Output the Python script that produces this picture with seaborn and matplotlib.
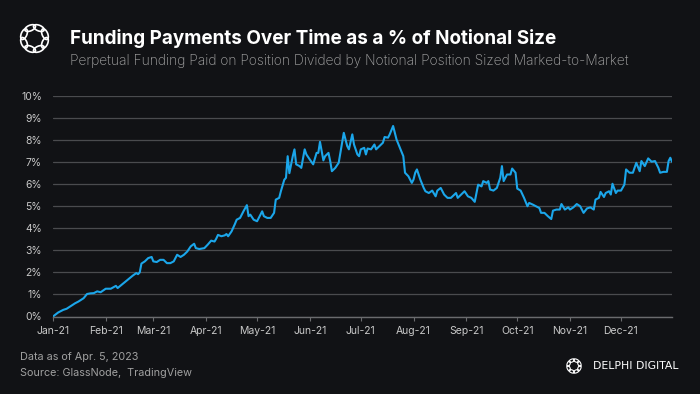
import numpy as np
import pandas as pd
import seaborn as sns
import matplotlib.pyplot as plt
import matplotlib.dates as mdates
from matplotlib.patches import Ellipse
from matplotlib.ticker import FuncFormatter

# -----------------------------
# data: day offset from 2021-01-01, funding %
# -----------------------------
days = [0, 3, 6, 8, 11, 13, 15, 18, 20, 22, 24, 26, 28, 31, 34, 37, 38, 41, 44, 47,
        49, 50, 51, 52, 54, 56, 58, 59, 61, 63, 65, 67, 69, 71, 73, 75, 77, 79, 81, 83,
        84, 86, 89, 91, 93, 95, 96, 97, 99, 101, 102, 103, 105, 107, 108, 110, 112, 114, 115, 116,
        118, 120, 121, 123, 124, 126, 128, 130, 131, 133, 134, 136, 137, 138, 139, 141, 142, 143, 145, 146,
        148, 149, 151, 153, 155, 156, 157, 159, 160, 162, 163, 164, 166, 168, 169, 171, 173, 174, 176, 177,
        179, 180, 181, 183, 184, 185, 187, 189, 190, 192, 194, 195, 197, 198, 200, 202, 204, 206, 207, 209,
        211, 212, 213, 214, 216, 218, 219, 221, 223, 225, 226, 228, 230, 232, 234, 237, 238, 242, 244, 246,
        248, 250, 252, 253, 255, 256, 257, 259, 261, 263, 264, 265, 267, 269, 270, 272, 273, 275, 277, 279,
        280, 282, 284, 286, 287, 289, 291, 293, 294, 296, 298, 299, 301, 303, 304, 306, 308, 310, 312, 314,
        316, 318, 319, 321, 322, 324, 325, 327, 328, 329, 331, 332, 334, 336, 337, 339, 341, 343, 345, 346,
        348, 350, 352, 354, 356, 357, 359, 361, 362, 363, 364]
funding_pct = [0.0, 0.18, 0.3, 0.35, 0.5, 0.6, 0.68, 0.83, 1.02, 1.05, 1.06, 1.14, 1.1, 1.26, 1.26, 1.39, 1.29, 1.48, 1.67, 1.86,
               1.97, 1.92, 2.0, 2.4, 2.5, 2.65, 2.7, 2.5, 2.47, 2.57, 2.57, 2.42, 2.42, 2.5, 2.8, 2.7, 2.8, 2.95, 3.18, 3.3,
               3.1, 3.06, 3.1, 3.26, 3.44, 3.4, 3.53, 3.7, 3.64, 3.68, 3.74, 3.64, 3.86, 4.2, 4.39, 4.47, 4.77, 5.05, 4.55, 4.62,
               4.39, 4.32, 4.47, 4.77, 4.55, 4.47, 4.47, 4.7, 5.3, 5.38, 5.68, 6.2, 6.29, 7.27, 6.5, 7.27, 7.58, 6.9, 6.82, 6.74,
               7.58, 7.35, 7.12, 6.9, 7.42, 7.42, 7.92, 7.08, 7.27, 7.42, 7.05, 6.59, 6.74, 6.97, 7.42, 8.33, 7.73, 7.58, 8.26, 7.8,
               7.35, 7.27, 7.58, 7.65, 7.35, 7.62, 7.58, 7.8, 7.58, 7.73, 7.88, 8.14, 8.11, 8.26, 8.64, 8.03, 7.65, 7.27, 6.52, 6.36,
               6.06, 6.21, 6.52, 6.67, 6.21, 5.83, 5.68, 5.6, 5.71, 5.45, 5.71, 5.83, 5.53, 5.38, 5.38, 5.6, 5.38, 5.68, 5.45, 5.38,
               5.2, 5.98, 5.9, 6.14, 6.06, 6.14, 5.76, 5.71, 5.83, 6.29, 6.82, 6.14, 6.44, 6.44, 6.71, 6.52, 5.8, 5.71, 5.38, 5.0,
               5.15, 5.08, 5.0, 4.92, 4.7, 4.7, 4.55, 4.42, 4.8, 4.85, 4.85, 5.1, 4.85, 4.95, 4.85, 4.95, 5.1, 5.0, 4.7, 4.9,
               4.95, 4.85, 5.3, 5.38, 5.65, 5.42, 5.6, 5.68, 5.53, 6.02, 5.6, 5.71, 5.71, 5.98, 6.67, 6.52, 6.52, 6.97, 6.59, 7.05,
               6.82, 7.17, 7.02, 7.05, 6.74, 6.52, 6.56, 6.56, 7.05, 7.2, 7.02]

title = "Funding Payments Over Time as a % of Notional Size"
subtitle = "Perpetual Funding Paid on Position Divided by Notional Position Sized Marked-to-Market"
footer_lines = ["Data as of Apr. 5, 2023", "Source: GlassNode,  TradingView"]
y_ticks = [0, 1, 2, 3, 4, 5, 6, 7, 8, 9, 10]

df = pd.DataFrame({
    "date": pd.Timestamp("2021-01-01") + pd.to_timedelta(days, unit="D"),
    "funding": funding_pct,
})

# -----------------------------
# style
# -----------------------------
BG = "#111215"
GRID = "#4a4b4e"
TXT = "#c8c8c8"
sns.set_theme(style="dark", rc={
    "figure.facecolor": BG,
    "axes.facecolor": BG,
    "savefig.facecolor": BG,
})
plt.rcParams["font.family"] = ["Inter", "DejaVu Sans"]

fig = plt.figure(figsize=(7, 3.94), dpi=100)
ax = fig.add_axes([53 / 700, 1 - 316.5 / 394, (672 - 53) / 700, (316.5 - 96) / 394])

sns.lineplot(data=df, x="date", y="funding", ax=ax, color="#1ba6ea", linewidth=1.5)

ax.set_xlim(pd.Timestamp("2021-01-01"), pd.Timestamp("2021-12-31"))
ax.set_ylim(0, 10)
ax.set_yticks(y_ticks)
ax.yaxis.set_major_formatter(FuncFormatter(lambda v, p: f"{int(v)}%"))
ax.xaxis.set_major_locator(mdates.MonthLocator())
ax.xaxis.set_major_formatter(mdates.DateFormatter("%b-%y"))
ax.grid(axis="y", color=GRID, linewidth=0.9)
ax.grid(axis="x", visible=False)
ax.set_axisbelow(True)
ax.set_xlabel("")
ax.set_ylabel("")
for s in ["top", "right", "left"]:
    ax.spines[s].set_visible(False)
ax.spines["bottom"].set_color("#6a6b6e")
ax.spines["bottom"].set_linewidth(1.0)
ax.tick_params(axis="y", length=0, labelsize=7.5, labelcolor=TXT, pad=8)
ax.tick_params(axis="x", length=3, width=0.8, color="#6a6b6e", labelsize=7.5,
               labelcolor=TXT, pad=4, bottom=True)

# -----------------------------
# titles and footer
# -----------------------------
fig.text(70 / 700, 1 - 38 / 394, title, color="white", fontsize=13.6,
         fontweight="bold", va="center", ha="left")
fig.text(70 / 700, 1 - 61 / 394, subtitle, color="#a6a6a6", fontsize=9.9,
         fontweight="light", va="center", ha="left")
fig.text(20 / 700, 1 - 357 / 394, footer_lines[0], color="#a0a0a0", fontsize=7.8,
         va="center", ha="left")
fig.text(20 / 700, 1 - 373 / 394, footer_lines[1], color="#a0a0a0", fontsize=7.8,
         va="center", ha="left")
fig.text(593 / 700, 1 - 366 / 394, "DELPHI DIGITAL", color="white", fontsize=7.8,
         fontweight="normal", va="center", ha="left", family="DejaVu Sans")


def draw_logo(rect, lw):
    lax = fig.add_axes(rect)
    lax.set_xlim(-1.55, 1.55)
    lax.set_ylim(-1.55, 1.55)
    lax.set_aspect("equal")
    lax.axis("off")
    for k in range(8):
        a = k * np.pi / 4 + np.pi / 8
        lax.add_patch(Ellipse((np.cos(a), np.sin(a)), 1.0, 0.5,
                              angle=np.degrees(a) + 90, fill=False,
                              edgecolor="white", linewidth=lw))


draw_logo([17 / 700, 1 - 56 / 394, 35 / 700, 35 / 394], 1.2)
draw_logo([565 / 700, 1 - 375 / 394, 18 / 700, 18 / 394], 0.8)

fig.savefig("out.png", dpi=100)
